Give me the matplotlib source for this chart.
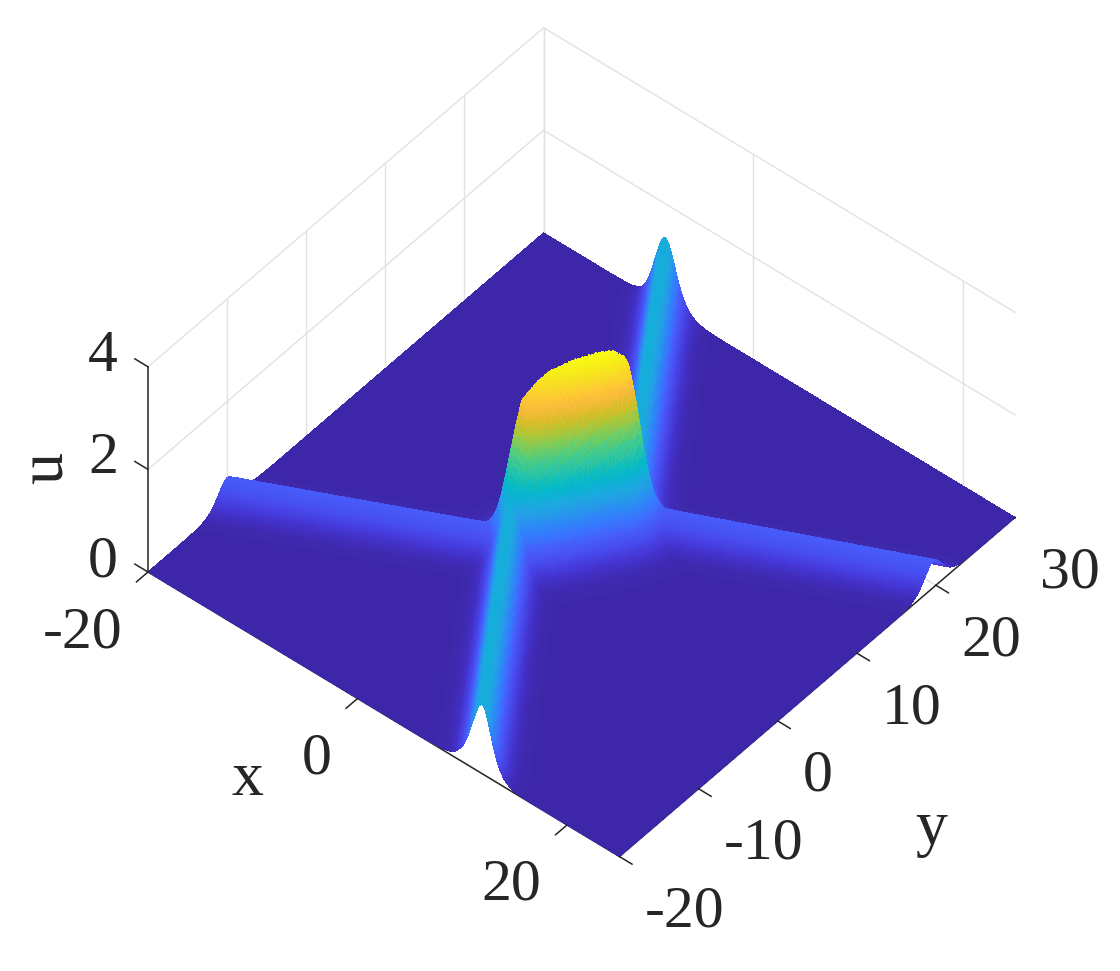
import numpy as np
import matplotlib
matplotlib.use("Agg")
import matplotlib.pyplot as plt
from matplotlib.colors import LinearSegmentedColormap
from mpl_toolkits.mplot3d import proj3d

plt.rcParams['font.family'] = ['Liberation Serif', 'DejaVu Serif']

# --- values ---
x_limits = [-20, 25]
y_limits = [-20, 30]
z_limits = [0, 4]
x_ticks = [-20, 0, 20]
y_ticks = [-20, -10, 0, 10, 20, 30]
z_ticks = [0, 2, 4]
x_wall_ticks = [-20, 0, 20]
y_wall_ticks = [-10, 0, 10, 20, 30]

# ridge crest lines as (x, y) end points, with crest height and width scale
front_ridge = [(11.9, -20.0), (-0.7, 0.5)]
far_ridge = [(4.5, 8.8), (-8.4, 30.0)]
left_arm = [(-40.0, -20.9), (-0.7, 0.5)]
right_arm = [(4.3, 8.8), (45.0, 30.2)]
stem = [(0.0, 1.4), (4.0, 8.3)]
ridge_lines = [front_ridge, far_ridge, left_arm, right_arm, stem]
ridge_heights = [1.35, 1.35, 0.52, 0.52, 3.62]
ridge_widths = [1.08, 1.08, 1.25, 1.25, 1.55]
# height of each ridge along its length (0 = first end, 1 = last end)
along_position = [0.0, 0.12, 0.25, 0.5, 0.75, 0.9, 1.0]
stem_along = [0.86, 0.92, 0.96, 0.99, 1.0, 0.99, 0.95]
flat_along = [1.0, 1.0, 1.0, 1.0, 1.0, 1.0, 1.0]
ridge_along = [flat_along, flat_along, flat_along, flat_along, stem_along]
# crest-normalised cross section: distance from the crest, fraction of the height
profile_distance = [0.0, 0.25, 0.5, 0.75, 1.0, 1.25, 1.5, 2.0, 2.5, 3.0, 4.0, 5.0]
profile_fraction = [1.0, 0.95, 0.81, 0.64, 0.47, 0.33, 0.22, 0.09, 0.038, 0.015, 0.002, 0.0]

parula_stops = [
    (0.2422, 0.1504, 0.6603), (0.2706, 0.2147, 0.8364), (0.2813, 0.3006, 0.9414),
    (0.2760, 0.3667, 0.9829), (0.2206, 0.4603, 0.9973), (0.1786, 0.5289, 0.9682),
    (0.1460, 0.6091, 0.9079), (0.1113, 0.6635, 0.8763), (0.0297, 0.7082, 0.8163),
    (0.0433, 0.7411, 0.7394), (0.1717, 0.7670, 0.6554), (0.2470, 0.7918, 0.5567),
    (0.3909, 0.8029, 0.4354), (0.5616, 0.7942, 0.3045), (0.7242, 0.7698, 0.1910),
    (0.8634, 0.7406, 0.1596), (0.9728, 0.7298, 0.2394), (0.9952, 0.7861, 0.1996),
    (0.9738, 0.8549, 0.1493), (0.9628, 0.9315, 0.0885), (0.9769, 0.9839, 0.0805)]
parula = LinearSegmentedColormap.from_list('parula', parula_stops)

GRID = '#e2e2e2'
AXC = '#262626'
W, H = 1120, 971

grid_x = np.linspace(x_limits[0], x_limits[1], 320)
grid_y = np.linspace(y_limits[0], y_limits[1], 320)
X, Y = np.meshgrid(grid_x, grid_y)


def segment_distance(seg):
    (ax_, ay_), (bx_, by_) = seg
    dx, dy = bx_ - ax_, by_ - ay_
    t = np.clip(((X - ax_) * dx + (Y - ay_) * dy) / (dx * dx + dy * dy), 0, 1)
    return np.hypot(X - (ax_ + t * dx), Y - (ay_ + t * dy)), t


U = np.zeros_like(X)
for seg, h, w, along in zip(ridge_lines, ridge_heights, ridge_widths, ridge_along):
    dist, t = segment_distance(seg)
    part = h * np.interp(t, along_position, along) * np.interp(dist / w, profile_distance, profile_fraction)
    U += part ** 4
U = U ** 0.25

fig = plt.figure(figsize=(W / 100, H / 100), dpi=100, facecolor='white')
ax = fig.add_axes([0, 0, 1, 1], projection='3d', proj_type='ortho', computed_zorder=False)
ax.set_axis_off()
ax.plot_surface(X, Y, U, rstride=1, cstride=1, cmap=parula, vmin=0, vmax=float(U.max()),
                linewidth=0, antialiased=False, shade=False, zorder=3)
ax.set_xlim(x_limits)
ax.set_ylim(y_limits)
ax.set_zlim(z_limits)
ax.set_box_aspect((1, 1, 0.48))
ax.view_init(elev=46, azim=-50)


def proj(x, y, z):
    a, b, _ = proj3d.proj_transform(x, y, z, ax.get_proj())
    return float(a), float(b)


# place the axes so the box corners land where the reference has them
x0, x1 = ax.viewLim.intervalx
y0, y1 = ax.viewLim.intervaly
pL = proj(x_limits[0], y_limits[0], 0)
pR = proj(x_limits[1], y_limits[1], 0)
size = (1015 - 148) / (pR[0] - pL[0]) * (x1 - x0)
left = 148 - size * (pL[0] - x0) / (x1 - x0)
bottom = (H - 572) - size * (pL[1] - y0) / (y1 - y0)
ax.set_position([left / W, bottom / H, size / W, size / H])

xa, xb = x_limits
ya, yb = y_limits
za, zb = z_limits

# back walls and floor grid
for yv in y_wall_ticks:
    ax.plot([xa, xa], [yv, yv], z_limits, color=GRID, lw=1, zorder=1)
for xv in x_wall_ticks:
    ax.plot([xv, xv], [yb, yb], z_limits, color=GRID, lw=1, zorder=1)
for zv in z_ticks[1:]:
    ax.plot([xa, xa], [ya, yb], [zv, zv], color=GRID, lw=1, zorder=1)
    ax.plot([xa, xb], [yb, yb], [zv, zv], color=GRID, lw=1, zorder=1)
for xv in x_ticks:
    ax.plot([xv, xv], [ya, yb], [0, 0], color=GRID, lw=1, zorder=1)
for yv in y_ticks:
    ax.plot([xa, xb], [yv, yv], [0, 0], color=GRID, lw=1, zorder=1)

# axis lines
ax.plot([xa, xb], [ya, ya], [0, 0], color=AXC, lw=1.1, zorder=2)
ax.plot([xb, xb], [ya, yb], [0, 0], color=AXC, lw=1.1, zorder=2)
ax.plot([xa, xa], [ya, ya], z_limits, color=AXC, lw=1.1, zorder=2)

FS = 43
for xv in x_ticks:
    ax.plot([xv, xv], [ya, ya - 1.45], [0, 0], color=AXC, lw=1.1, zorder=4)
    ax.annotate(str(xv), proj(xv, ya, 0), xytext=(-26, -61), textcoords='offset pixels',
                ha='right', va='center', fontsize=FS, color=AXC)
for yv in y_ticks:
    ax.plot([xb, xb + 1.2], [yv, yv], [0, 0], color=AXC, lw=1.1, zorder=4)
    ax.annotate(str(yv), proj(xb, yv, 0), xytext=(25, -56), textcoords='offset pixels',
                ha='left', va='center', fontsize=FS, color=AXC)
for zv in z_ticks:
    ax.plot([xa, xa - 1.25], [ya, ya], [zv, zv], color=AXC, lw=1.1, zorder=4)
    ax.annotate(str(zv), proj(xa, ya, zv), xytext=(-30, 10), textcoords='offset pixels',
                ha='right', va='center', fontsize=FS, color=AXC)

ax.annotate('x', proj((xa + xb) / 2, ya, 0), xytext=(-136, -66), textcoords='offset pixels',
            ha='center', va='center', fontsize=46, color=AXC)
ax.annotate('y', proj(xb, (ya + yb) / 2, 0), xytext=(114, -142), textcoords='offset pixels',
            ha='center', va='center', fontsize=46, color=AXC)
ax.annotate('u', proj(xa, ya, 2), xytext=(-100, 1), textcoords='offset pixels',
            ha='center', va='center', rotation=90, fontsize=46, color=AXC)

fig.savefig('out.png', dpi=100, facecolor='white')
